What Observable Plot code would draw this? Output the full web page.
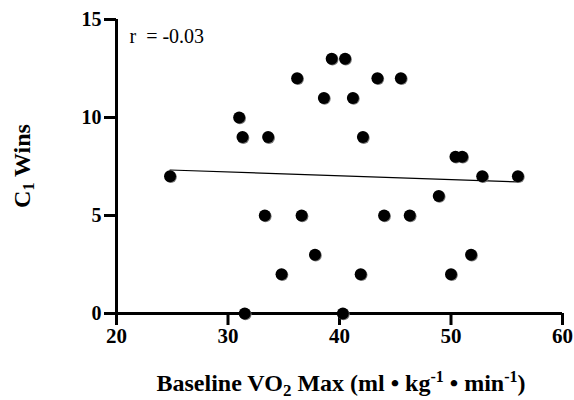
<!DOCTYPE html>
<html><head><meta charset="utf-8">
<script src="https://cdn.jsdelivr.net/npm/d3@7"></script>
<script src="https://cdn.jsdelivr.net/npm/@observablehq/plot@0.6"></script>
<style>
body{margin:0;background:#fff}
</style>
</head><body><div id="chart"></div>
<script>
const vo2  = [24.8, 31.0, 31.3, 31.5, 33.3, 33.6, 34.8, 36.2, 36.6, 37.8, 38.6, 39.3, 40.3, 40.5, 41.2, 41.9, 42.1, 43.4, 44.0, 45.5, 46.3, 48.9, 50.0, 50.4, 51.0, 51.8, 52.8, 56.0];
const wins = [7, 10, 9, 0, 5, 9, 2, 12, 5, 3, 11, 13, 0, 13, 11, 2, 9, 12, 5, 12, 5, 6, 2, 8, 8, 3, 7, 7];
const xTicks = [20, 30, 40, 50, 60];
const yTicks = [0, 5, 10, 15];
const rLabel = "r\u00a0\u00a0= -0.03";

const data = vo2.map((v, i) => ({x: v, y: wins[i]}));
const font = "'Liberation Serif', 'Times New Roman', Times, serif";
const W = 574, H = 400, mL = 116, mR = 12, mT = 19, mB = 87;

const plot = Plot.plot({
  width: W, height: H,
  marginLeft: mL, marginRight: mR, marginTop: mT, marginBottom: mB,
  style: {background: "#fff", color: "#000"},
  x: {domain: [20, 60]},
  y: {domain: [0, 15]},
  marks: [
    Plot.axisX({ticks: xTicks, tickSize: 12, strokeWidth: 3, fontSize: 21, fontWeight: "bold", tickPadding: 3, label: null}),
    Plot.axisY({ticks: yTicks, tickSize: 12, strokeWidth: 3, fontSize: 20, fontWeight: "bold", tickPadding: 3, label: null}),
    Plot.ruleY([0], {strokeWidth: 3}),
    Plot.ruleX([20], {strokeWidth: 3}),
    Plot.linearRegressionY(data, {x: "x", y: "y", ci: 0, stroke: "#000", strokeWidth: 1.2}),
    Plot.dot(data, {x: "x", y: "y", r: 6, fill: "#777", dx: 0.8, dy: 0.8}),
    Plot.dot(data, {x: "x", y: "y", r: 6, fill: "#000"}),
    Plot.text([rLabel], {frameAnchor: "top-left", textAnchor: "start", lineAnchor: "top", dx: 13, dy: 9, fontSize: 20})
  ]
});
document.getElementById("chart").appendChild(plot);

const svg = d3.select(plot);
svg.selectAll("text").each(function() {
  this.setAttribute("font-family", font);
  this.setAttribute("fill", "#000");
  this.style.setProperty("font-family", font, "important");
  this.style.setProperty("font-variant", "normal", "important");
});

const xl = svg.append("text")
  .attr("x", (mL + W - mR) / 2 + 2).attr("y", 391)
  .attr("text-anchor", "middle")
  .attr("font-family", font).attr("font-size", 24).attr("font-weight", "bold").attr("fill", "#000");
xl.append("tspan").text("Baseline VO");
xl.append("tspan").attr("font-size", 17).attr("dy", 5).text("2");
xl.append("tspan").attr("dy", -5).text(" Max (ml \u2022 kg");
xl.append("tspan").attr("font-size", 16).attr("dy", -9).text("-1");
xl.append("tspan").attr("dy", 9).text(" \u2022 min");
xl.append("tspan").attr("font-size", 16).attr("dy", -9).text("-1");
xl.append("tspan").attr("dy", 9).text(")");

const yl = svg.append("text")
  .attr("transform", `translate(30,${(mT + H - mB) / 2}) rotate(-90)`)
  .attr("text-anchor", "middle")
  .attr("font-family", font).attr("font-size", 24).attr("font-weight", "bold").attr("fill", "#000");
yl.append("tspan").text("C");
yl.append("tspan").attr("font-size", 16).attr("dy", 4).text("1");
yl.append("tspan").attr("dy", -4).text(" Wins");
</script>
</body></html>
